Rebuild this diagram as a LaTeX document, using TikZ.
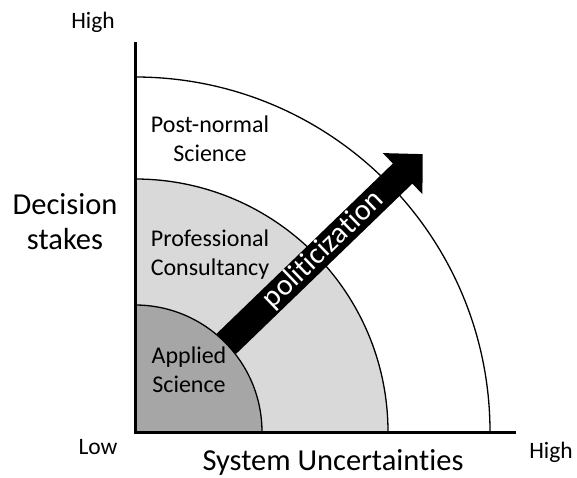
\documentclass[tikz,border=0pt]{standalone}
\usepackage{fontspec}
\setmainfont{Carlito}[Ligatures=NoCommon]
\usetikzlibrary{positioning}
\definecolor{appliedgray}{RGB}{166,166,166}
\definecolor{consultgray}{RGB}{217,217,217}
\tikzset{
  zone/.style={align=center, font=\fontsize{24}{29}\selectfont, inner sep=0pt},
  axistitle/.style={align=center, font=\fontsize{30.5}{35}\selectfont, inner sep=0pt},
  endlabel/.style={font=\fontsize{23.5}{26}\selectfont, inner sep=0pt},
  arcline/.style={line width=1.3pt},
}
\begin{document}
\begin{tikzpicture}[x=1pt,y=1pt]
\useasboundingbox (0,0) rectangle (577,477);
%\draw[step=50,color=gray] (0,0) grid (577,477);
%shaded zones, all centred on the corner of the axes
\coordinate (O) at (135,45);
\fill[consultgray] (O) -- (388,45) arc (0:90:253) -- cycle;
\fill[appliedgray] (O) -- (262,45) arc (0:90:127) -- cycle;
%zone boundaries
\draw[arcline] (262,45) arc (0:90:127);
\draw[arcline] (388,45) arc (0:90:253);
\draw[arcline] (490,45) arc (0:90:355);
%politicization arrow
\begin{scope}[shift={(O)},rotate=44]
\fill (127,-14) -- (372,-14) -- (372,-28.5) -- (400,0) -- (372,28.5) -- (372,14) -- (127,14) -- cycle;
\node[text=white, font=\fontsize{30}{32}\selectfont, rotate=44] (polit) at (262,0) {politicization};
\end{scope}
%axes
\draw[line width=3pt] (135,435) -- (O) -- (516,45);
%zone names
\node[zone] (applied) at (189,107) {Applied\\Science};
\node[zone] (consult) at (210,222) {Professional\\Consultancy};
\node[zone] (postnormal) at (210,338) {Post-normal\\Science};
%axis titles and ends
\node[axistitle] (stakes) at (65,255) {Decision\\stakes};
\node[axistitle] (uncert) at (333,15) {System Uncertainties};
\node[endlabel] (highY) at (93,455) {High};
\node[endlabel] (low) at (98,30) {Low};
\node[endlabel] (highX) at (551,25) {High};
\end{tikzpicture}
\end{document}
